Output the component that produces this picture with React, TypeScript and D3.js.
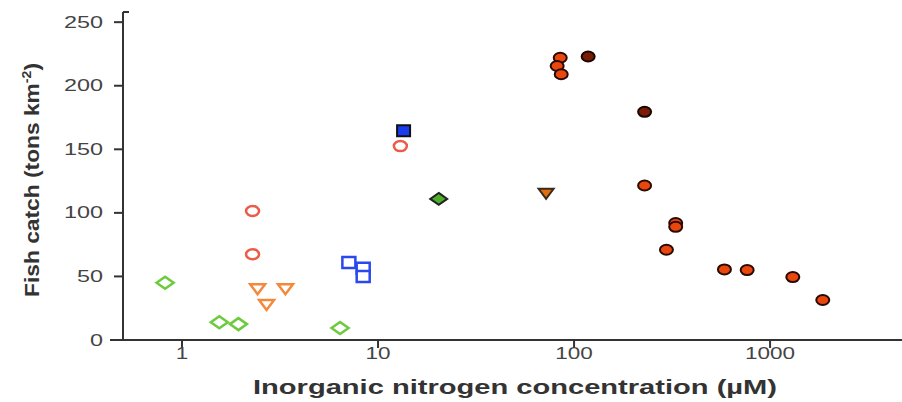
import React from "react";
import * as d3 from "d3";

// nitrogen (µM) and fish catch (tons km-2)
const openDiamondN = [0.82, 1.55, 1.94, 6.4];
const openDiamondCatch = [45, 14, 12.5, 9.5];

const openCircleN = [2.29, 2.29, 13.0];
const openCircleCatch = [101.5, 67.5, 152.5];

const openTriangleN = [2.43, 3.37, 2.7];
const openTriangleCatch = [40, 40, 27.5];

const openSquareN = [7.1, 8.4, 8.4];
const openSquareCatch = [61, 56.5, 50];

const filledSquareN = [13.5];
const filledSquareCatch = [164.5];

const filledDiamondN = [20.4];
const filledDiamondCatch = [111];

const filledTriangleN = [72];
const filledTriangleCatch = [115];

const filledCircleN = [85, 82, 86, 330, 330, 296, 585, 764, 1306, 1857, 229];
const filledCircleCatch = [222, 215.5, 209, 92, 89, 71, 55.5, 55, 49.5, 31.5, 121.5];

const darkCircleN = [118, 229];
const darkCircleCatch = [223, 179.5];

const xTicks = [1, 10, 100, 1000];
const yTicks = [0, 50, 100, 150, 200, 250];

const layout = { width: 902, height: 402, left: 123, right: 900, top: 12, bottom: 340 };

const xScale = d3.scaleLog().domain([0.5, 4600]).range([layout.left, layout.right]);
const yScale = d3.scaleLinear().domain([0, 258]).range([layout.bottom, layout.top]);

type Shape = "diamond" | "circle" | "triangle" | "square";

const Marker = ({ shape, cx, cy, fill, stroke, sw }: any) => {
    if (shape === "circle") {
        return <ellipse cx={cx} cy={cy} rx={6.5} ry={5} fill={fill} stroke={stroke} strokeWidth={sw} />;
    }
    let pts: number[][] = [];
    if (shape === "diamond") pts = [[0, -6], [8.5, 0], [0, 6], [-8.5, 0]];
    if (shape === "triangle") pts = [[-7.5, -5], [7.5, -5], [0, 5]];
    if (shape === "square") pts = [[-6.5, -5.5], [6.5, -5.5], [6.5, 5.5], [-6.5, 5.5]];
    const d = "M" + pts.map(p => (cx + p[0]) + "," + (cy + p[1])).join("L") + "Z";
    return <path d={d} fill={fill} stroke={stroke} strokeWidth={sw} strokeLinejoin="miter" />;
};

const series = [
    { xs: openDiamondN, ys: openDiamondCatch, shape: "diamond", fill: "none", stroke: "#6ccb3c", sw: 2.5 },
    { xs: openTriangleN, ys: openTriangleCatch, shape: "triangle", fill: "none", stroke: "#f3893a", sw: 2.5 },
    { xs: openCircleN, ys: openCircleCatch, shape: "circle", fill: "none", stroke: "#ec5b48", sw: 2.5 },
    { xs: openSquareN, ys: openSquareCatch, shape: "square", fill: "#fff", stroke: "#2a48f0", sw: 2.5 },
    { xs: filledSquareN, ys: filledSquareCatch, shape: "square", fill: "#1a3cf0", stroke: "#111", sw: 2 },
    { xs: filledDiamondN, ys: filledDiamondCatch, shape: "diamond", fill: "#4caf2a", stroke: "#222", sw: 2 },
    { xs: filledTriangleN, ys: filledTriangleCatch, shape: "triangle", fill: "#e0700f", stroke: "#3a2a1a", sw: 2 },
    { xs: filledCircleN, ys: filledCircleCatch, shape: "circle", fill: "#ea470f", stroke: "#2a0a00", sw: 2 },
    { xs: darkCircleN, ys: darkCircleCatch, shape: "circle", fill: "#7a1c05", stroke: "#1a0500", sw: 2 }
];

const App = () => {
    const font = "'Liberation Sans', Arial, sans-serif";
    return (
        <svg
            width={layout.width}
            height={layout.height}
            style={{ position: "absolute", left: 0, top: 0, background: "#fff" }}
            fontFamily={font}
        >
            {/* axes */}
            <line x1={layout.left} x2={layout.left} y1={layout.top} y2={layout.bottom} stroke="#333" strokeWidth={2} />
            <line x1={layout.left} x2={layout.left + 6} y1={layout.top} y2={layout.top} stroke="#333" strokeWidth={2} />
            <line x1={110} x2={layout.right + 2} y1={layout.bottom} y2={layout.bottom} stroke="#333" strokeWidth={2} />
            {yTicks.map(t => (
                <g key={"y" + t}>
                    <line x1={114} x2={layout.left} y1={yScale(t)} y2={yScale(t)} stroke="#333" strokeWidth={2} />
                    <text
                        x={103}
                        y={yScale(t)}
                        dy="0.35em"
                        textAnchor="end"
                        fontSize={16}
                        fill="#444"
                        textLength={String(t).length * 13}
                        lengthAdjust="spacingAndGlyphs"
                    >
                        {t}
                    </text>
                </g>
            ))}
            {xTicks.map(t => (
                <g key={"x" + t}>
                    <line x1={xScale(t)} x2={xScale(t)} y1={layout.bottom} y2={layout.bottom + 8} stroke="#333" strokeWidth={2} />
                    <text
                        x={xScale(t)}
                        y={359}
                        textAnchor="middle"
                        fontSize={16}
                        fill="#444"
                        textLength={String(t).length * 12.5}
                        lengthAdjust="spacingAndGlyphs"
                    >
                        {t}
                    </text>
                </g>
            ))}
            <text
                x={515}
                y={394}
                textAnchor="middle"
                fontSize={20}
                fontWeight="bold"
                fill="#333"
                textLength={524}
                lengthAdjust="spacingAndGlyphs"
            >
                Inorganic nitrogen concentration (µM)
            </text>
            <text
                transform="translate(39,180) rotate(-90)"
                textAnchor="middle"
                fontSize={21}
                fontWeight="bold"
                fill="#333"
                textLength={234}
                lengthAdjust="spacingAndGlyphs"
            >
                Fish catch (tons km
                <tspan dy={-8} fontSize={13}>-2</tspan>
                <tspan dy={8}>)</tspan>
            </text>
            {/* points */}
            {series.map((s, i) => (
                <g key={i}>
                    {s.xs.map((n, j) => (
                        <Marker
                            key={j}
                            shape={s.shape as Shape}
                            cx={xScale(n)}
                            cy={yScale(s.ys[j])}
                            fill={s.fill}
                            stroke={s.stroke}
                            sw={s.sw}
                        />
                    ))}
                </g>
            ))}
        </svg>
    );
};

export default App;
